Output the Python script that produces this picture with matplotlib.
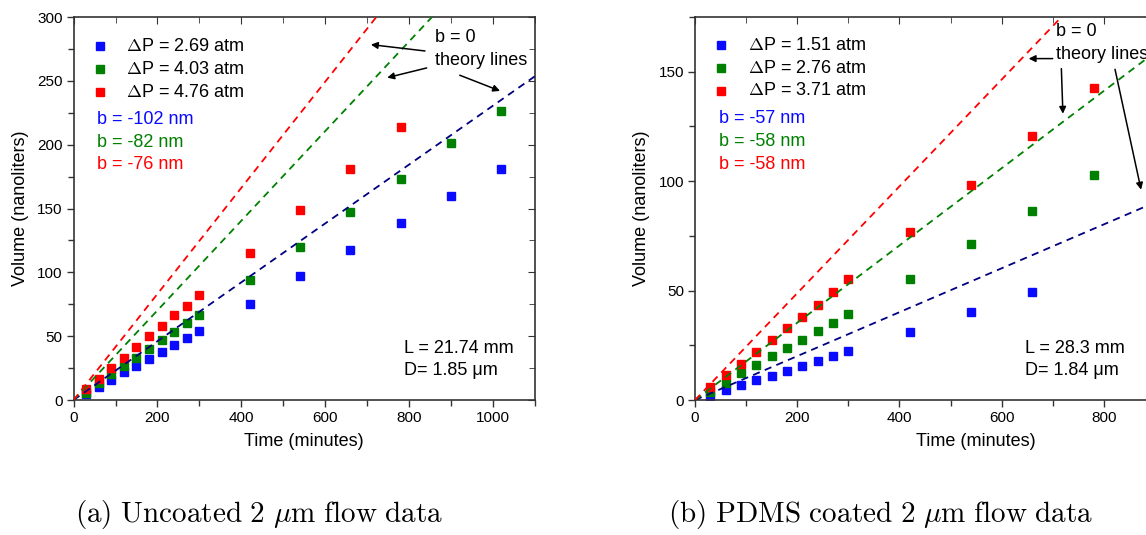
import numpy as np
import matplotlib
matplotlib.use('Agg')
import matplotlib.pyplot as plt
from matplotlib.ticker import MultipleLocator, FuncFormatter

plt.rcParams['font.family'] = ['Liberation Sans', 'DejaVu Sans']
plt.rcParams['mathtext.fontset'] = 'cm'

# ---- data: uncoated channel (a)
t_a = [30, 60, 90, 120, 150, 180, 210, 240, 270, 300, 420, 540, 660, 780, 900, 1020]
blue_a = [4.7, 10.4, 16, 21.6, 27, 32.3, 37.8, 43.3, 48.5, 54, 75, 96.8, 117.4, 138.5, 160, 181]
green_a = [5.7, 13.6, 20.3, 26.6, 33, 40, 47, 53, 60, 66.8, 93.7, 120, 147, 173.5, 201, 226.7]
red_a = [8.9, 16.7, 24.8, 33, 41.5, 49.8, 58, 66.3, 74, 82.4, 115.3, 149.2, 180.8, 214]
slopes_a = [0.2305, 0.351, 0.4155]          # b = 0 theory lines (nl/min)
dp_a = ['2.69', '4.03', '4.76']
b_a = ['-102', '-82', '-76']

# ---- data: PDMS coated channel (b)
t_b = [30, 60, 90, 120, 150, 180, 210, 240, 270, 300, 420, 540, 660, 780]
blue_b = [1.8, 4.6, 6.9, 9.2, 11.1, 13.4, 15.6, 17.9, 20.1, 22.4, 31.3, 40, 49.3]
green_b = [3.8, 7.6, 12.2, 16, 20.1, 23.7, 27.6, 31.6, 35.3, 39.4, 55.4, 71.1, 86.2, 103]
red_b = [5.8, 11.4, 16.6, 22, 27.3, 32.8, 38, 43.6, 49.4, 55.1, 76.8, 98.4, 120.6, 142.4]
slopes_b = [0.1003, 0.1765, 0.244]
dp_b = ['1.51', '2.76', '3.71']
b_b = ['-57', '-58', '-58']

pt_colors = ['#0a0aff', '#008000', '#ff0000']
line_colors = ['#000080', '#008000', '#ff0000']
FS = 13
MS = 6

fig = plt.figure(figsize=(11.46, 5.35), dpi=100)
ax1 = fig.add_axes([0.0642, 0.2523, 0.4025, 0.7159])
ax2 = fig.add_axes([0.6065, 0.2523, 0.4904, 0.7159])


def style_axes(ax, ymax, ymajor):
    ax.set_xlim(0, 1100)
    ax.set_ylim(0, ymax)
    ax.xaxis.set_major_locator(MultipleLocator(200))
    ax.xaxis.set_minor_locator(MultipleLocator(100))
    ax.yaxis.set_major_locator(MultipleLocator(ymajor))
    ax.yaxis.set_minor_locator(MultipleLocator(25))
    ax.tick_params(which='both', direction='out', labelsize=11, width=1, color='#333333', pad=3)
    ax.tick_params(which='major', length=5)
    ax.tick_params(which='minor', length=4)
    for s in ax.spines.values():
        s.set_linewidth(1.2)
        s.set_color('#333333')
    top = ax.secondary_xaxis('top')
    top.xaxis.set_major_locator(MultipleLocator(200))
    top.xaxis.set_minor_locator(MultipleLocator(100))
    top.tick_params(which='both', direction='in', labeltop=False, color='#333333')
    top.tick_params(which='major', length=5)
    top.tick_params(which='minor', length=4)
    top.spines['top'].set_visible(False)
    right = ax.secondary_yaxis('right')
    right.yaxis.set_major_locator(MultipleLocator(ymajor))
    right.yaxis.set_minor_locator(MultipleLocator(25))
    right.tick_params(which='both', direction='in', labelright=False, color='#333333')
    right.tick_params(which='major', length=5)
    right.tick_params(which='minor', length=4)
    right.spines['right'].set_visible(False)
    ax.set_xlabel('Time (minutes)', fontsize=FS, labelpad=6)
    ax.set_ylabel('Volume (nanoliters)', fontsize=FS, labelpad=6)


def draw(ax, t, series, slopes):
    for vals, c in zip(series, pt_colors):
        ax.plot(t[:len(vals)], vals, 's', color=c, ms=MS, mec=c, zorder=2)
    xs = np.array([0, 1100])
    for k, c in zip(slopes, line_colors):
        ax.plot(xs, k * xs, '--', color=c, lw=1.3, dashes=(4, 3), zorder=3)


style_axes(ax1, 300, 50)
draw(ax1, t_a, [blue_a, green_a, red_a], slopes_a)
style_axes(ax2, 175, 50)
draw(ax2, t_b, [blue_b, green_b, red_b], slopes_b)
# panel (b) runs past the right edge of the page; only label ticks that fit
ax2.xaxis.set_major_formatter(FuncFormatter(lambda v, p: '%d' % v if v < 900 else ''))

# legend-like annotations, panel (a)
for i, (dp, c) in enumerate(zip(dp_a, pt_colors)):
    y = 277 - 18 * i
    ax1.plot([62], [y], 's', color=c, ms=MS)
    ax1.text(124, y, '$\\Delta$P = %s atm' % dp, fontsize=FS, va='center')
for i, (b, c) in enumerate(zip(b_a, pt_colors)):
    ax1.text(55, 219.7 - 17.75 * i, 'b = %s nm' % b, color=c, fontsize=FS, va='center')
ax1.text(789, 40.4, 'L = 21.74 mm', fontsize=FS, va='center')
ax1.text(789, 23, 'D= 1.85 \u03bcm', fontsize=FS, va='center')
ax1.text(861, 283.6, 'b = 0', fontsize=FS, va='center')
ax1.text(861, 265.6, 'theory lines', fontsize=FS, va='center')
for (x0, y0), (x1, y1) in [((838, 273.4), (709, 278.4)),
                           ((842, 260.1), (748, 252.5)),
                           ((921, 254.4), (1017, 242.1))]:
    ax1.annotate('', xy=(x1, y1), xytext=(x0, y0),
                 arrowprops=dict(arrowstyle='-|>', color='black', lw=1.1,
                                 mutation_scale=10, shrinkA=0, shrinkB=0))

# panel (b)
for i, (dp, c) in enumerate(zip(dp_b, pt_colors)):
    y = 162 - 10.4 * i
    ax2.plot([51.7], [y], 's', color=c, ms=MS)
    ax2.text(104, y, '$\\Delta$P = %s atm' % dp, fontsize=FS, va='center')
for i, (b, c) in enumerate(zip(b_b, pt_colors)):
    ax2.text(46, 128.5 - 10.4 * i, 'b = %s nm' % b, color=c, fontsize=FS, va='center')
ax2.text(645, 23.7, 'L = 28.3 mm', fontsize=FS, va='center')
ax2.text(645, 13.4, 'D= 1.84 \u03bcm', fontsize=FS, va='center')
ax2.text(706, 168.3, 'b = 0', fontsize=FS, va='center')
ax2.text(706, 158, 'theory lines', fontsize=FS, va='center')
for (x0, y0), (x1, y1) in [((700, 156), (653, 156)),
                           ((717, 151.4), (720, 130.8)),
                           ((822, 151.1), (873, 96.1))]:
    ax2.annotate('', xy=(x1, y1), xytext=(x0, y0),
                 arrowprops=dict(arrowstyle='-|>', color='black', lw=1.1,
                                 mutation_scale=10, shrinkA=0, shrinkB=0))

fig.text(0.2257, 0.008, r'$\mathrm{(a)\ Uncoated\ 2\ }\mu\mathrm{m\ flow\ data}$',
         fontsize=21, ha='center', va='bottom')
fig.text(0.768, 0.008, r'$\mathrm{(b)\ PDMS\ coated\ 2\ }\mu\mathrm{m\ flow\ data}$',
         fontsize=21, ha='center', va='bottom')

fig.savefig('out.png', dpi=100)
